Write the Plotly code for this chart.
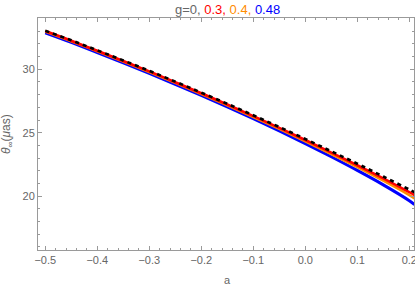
import plotly.graph_objects as go

a_vals = [-0.5, -0.45, -0.4, -0.35, -0.3, -0.25, -0.2, -0.15, -0.1, -0.05, 0.0, 0.05, 0.1, 0.15, 0.2, 0.21]
theta_g0 = [33.05, 32.29, 31.50, 30.70, 29.88, 29.03, 28.16, 27.28, 26.37, 25.45, 24.50, 23.53, 22.55, 21.54, 20.51, 20.30]
theta_g03 = [33.02, 32.26, 31.46, 30.66, 29.84, 28.98, 28.11, 27.22, 26.31, 25.38, 24.42, 23.43, 22.43, 21.39, 20.31, 20.08]
theta_g04 = [32.98, 32.22, 31.42, 30.62, 29.79, 28.93, 28.05, 27.16, 26.24, 25.30, 24.32, 23.32, 22.29, 21.22, 20.08, 19.82]
theta_g048 = [32.88, 32.12, 31.32, 30.51, 29.68, 28.82, 27.94, 27.04, 26.10, 25.14, 24.14, 23.10, 22.02, 20.88, 19.63, 19.32]

x_ticks = [-0.5, -0.4, -0.3, -0.2, -0.1, 0.0, 0.1, 0.2]
y_ticks = [20, 25, 30]

FONT = "Liberation Sans"
GRAY = "#666666"
FRAME = "#9a9a9a"

fig = go.Figure()
fig.add_trace(go.Scatter(x=a_vals, y=theta_g048, mode="lines", line=dict(color="#0000ff", width=3.0, shape="spline"), showlegend=False))
fig.add_trace(go.Scatter(x=a_vals, y=theta_g04, mode="lines", line=dict(color="#ff8c00", width=2.6, shape="spline"), showlegend=False))
fig.add_trace(go.Scatter(x=a_vals, y=theta_g03, mode="lines", line=dict(color="#ff0000", width=2.6, shape="spline"), showlegend=False))
fig.add_trace(go.Scatter(x=a_vals, y=theta_g0, mode="lines", line=dict(color="#000000", width=2.6, dash="4px,4px", shape="spline"), showlegend=False))

axis_common = dict(
    showgrid=False, zeroline=False, showline=True, linecolor=FRAME, linewidth=1,
    mirror="allticks", ticks="inside", ticklen=4, tickcolor=FRAME, tickwidth=1,
    tickfont=dict(family=FONT, size=11, color=GRAY), automargin=False,
    ticklabeloverflow="allow",
)

fig.update_xaxes(range=[-0.514, 0.209], tickvals=x_ticks, tickformat=".1f",
                 minor=dict(dtick=0.02, tick0=0, ticks="inside", ticklen=2, tickcolor=FRAME),
                 **axis_common)
fig.update_yaxes(range=[15.74, 34.05], tickvals=y_ticks,
                 minor=dict(dtick=1, tick0=0, ticks="inside", ticklen=2, tickcolor=FRAME),
                 **axis_common)

fig.add_annotation(
    text="<span style='color:#666666'>g=0, </span><span style='color:#ff0000'>0.3, </span>"
         "<span style='color:#ff8c00'>0.4, </span><span style='color:#0000ff'>0.48</span>",
    x=0.505, xref="paper", y=1.0, yref="paper", yanchor="bottom", yshift=-1,
    showarrow=False, font=dict(family=FONT, size=13),
)
fig.add_annotation(text="a", x=0.505, xref="paper", y=0, yref="paper", yanchor="top",
                   yshift=-22, showarrow=False, font=dict(family=FONT, size=11, color=GRAY))
fig.add_annotation(text="<i>θ</i><sub>∞</sub>(<i>μ</i>as)", x=0, xref="paper", y=0.5, yref="paper",
                   xanchor="right", xshift=-21, textangle=-90, showarrow=False,
                   font=dict(family=FONT, size=12, color=GRAY))

fig.update_layout(
    width=415, height=289,
    margin=dict(l=38, r=1, t=18, b=39, autoexpand=False),
    paper_bgcolor="white", plot_bgcolor="white",
    font=dict(family=FONT),
)

fig.write_html("out.html", config={"displayModeBar": False},
               post_script="document.body.style.margin='0';document.body.style.padding='0';")
